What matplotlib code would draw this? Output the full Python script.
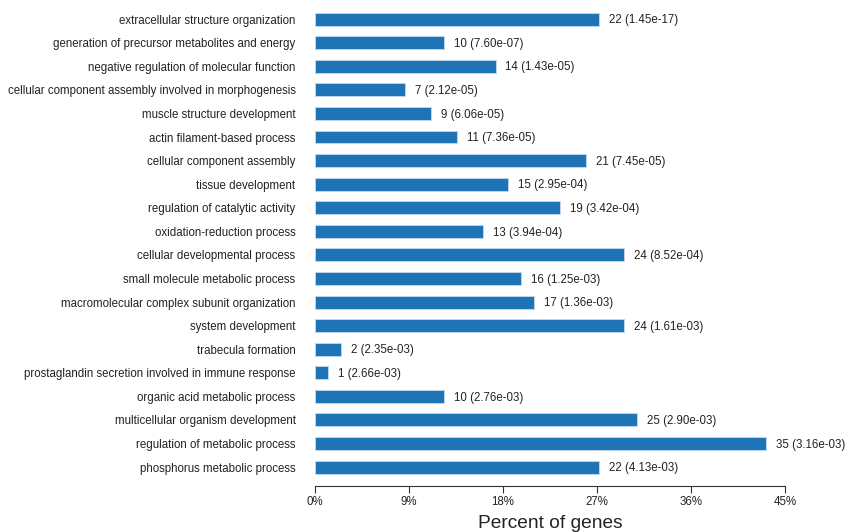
import matplotlib
matplotlib.use("Agg")
import matplotlib.pyplot as plt
import numpy as np

plt.rcParams['font.family'] = ['Liberation Sans', 'DejaVu Sans']

terms = [
    "extracellular structure organization",
    "generation of precursor metabolites and energy",
    "negative regulation of molecular function",
    "cellular component assembly involved in morphogenesis",
    "muscle structure development",
    "actin filament-based process",
    "cellular component assembly",
    "tissue development",
    "regulation of catalytic activity",
    "oxidation-reduction process",
    "cellular developmental process",
    "small molecule metabolic process",
    "macromolecular complex subunit organization",
    "system development",
    "trabecula formation",
    "prostaglandin secretion involved in immune response",
    "organic acid metabolic process",
    "multicellular organism development",
    "regulation of metabolic process",
    "phosphorus metabolic process",
]
counts = [22, 10, 14, 7, 9, 11, 21, 15, 19, 13, 24, 16, 17, 24, 2, 1, 10, 25, 35, 22]
pvalues = ["1.45e-17", "7.60e-07", "1.43e-05", "2.12e-05", "6.06e-05", "7.36e-05",
           "7.45e-05", "2.95e-04", "3.42e-04", "3.94e-04", "8.52e-04", "1.25e-03",
           "1.36e-03", "1.61e-03", "2.35e-03", "2.66e-03", "2.76e-03", "2.90e-03",
           "3.16e-03", "4.13e-03"]
total_genes = 81
xticks = [0, 9, 18, 27, 36, 45]

percent = np.array(counts) / total_genes * 100
ypos = np.arange(len(terms))

fig = plt.figure(figsize=(8.46, 5.32), dpi=100)
ax = fig.add_axes([315 / 846, 1 - 486 / 532, 470 / 846, 486 / 532])

ax.barh(ypos, percent, height=0.55, color='#1f74b6', edgecolor='#bcd6ee', linewidth=0.7)
for y, p, c, pv in zip(ypos, percent, counts, pvalues):
    ax.text(p + 0.95, y + 0.05, f"{c} ({pv})", va='center', ha='left',
            fontsize=8.3, color='#222222')

ax.set_xlim(0, 45)
ax.set_ylim(19.8, -0.81)
ax.set_yticks(ypos)
ax.set_yticklabels(terms, fontsize=8.3, color='#222222')
ax.tick_params(axis='y', length=0, pad=14)
ax.set_xticks(xticks)
ax.set_xticklabels([f"{t}%" for t in xticks], fontsize=8.3, color='#222222')
ax.tick_params(axis='x', length=5, width=0.8, color='#333333', pad=2)
for s in ['top', 'right', 'left']:
    ax.spines[s].set_visible(False)
ax.spines['bottom'].set_color('#333333')
ax.spines['bottom'].set_linewidth(0.8)
ax.set_xlabel("Percent of genes", fontsize=13.8, color='#222222', labelpad=5)

fig.savefig("out.png", dpi=100)
